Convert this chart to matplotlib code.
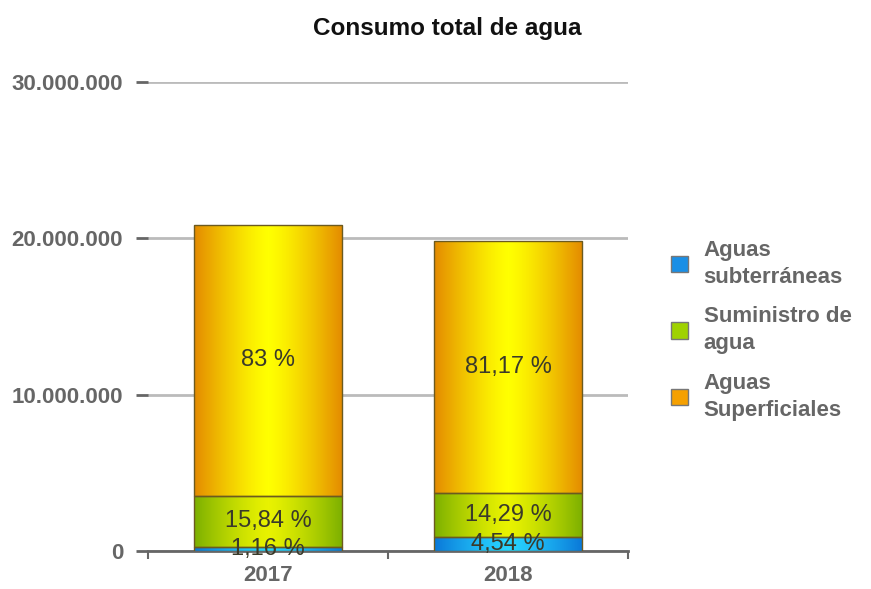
import numpy as np
import matplotlib.pyplot as plt
from matplotlib.colors import LinearSegmentedColormap

years = ['2017', '2018']
series_names = ['Aguas\nsubterráneas', 'Suministro de\nagua', 'Aguas\nSuperficiales']
subterraneas = [242000, 900000]
suministro = [3304000, 2834000]
superficiales = [17314000, 16096000]
pct_labels = [['1,16 %', '4,54 %'], ['15,84 %', '14,29 %'], ['83 %', '81,17 %']]
y_ticks = [0, 10000000, 20000000, 30000000]
y_tick_labels = ['0', '10.000.000', '20.000.000', '30.000.000']

# (edge colour, centre colour, legend colour)
colours = [('#0a78d8', '#27d3ff', '#1a8fe6'),
           ('#7cb000', '#e8f200', '#9fd200'),
           ('#e48a00', '#ffff00', '#f5a000')]

plt.rcParams['font.family'] = ['Liberation Sans', 'DejaVu Sans']

fig = plt.figure(figsize=(8.71, 5.89), dpi=100)
ax = fig.add_axes([148 / 871, 1 - 551 / 589, 480 / 871, 469 / 589])

x = np.arange(len(years))
width = 0.62
bottoms = np.zeros(len(years))
grad = np.abs(np.linspace(-1, 1, 200)) ** 1.3
grad = np.vstack([grad, grad])

handles = []
for i, vals in enumerate([subterraneas, suministro, superficiales]):
    edge, centre, leg = colours[i]
    cmap = LinearSegmentedColormap.from_list('c%d' % i, [centre, edge])
    bars = ax.bar(x, vals, width, bottom=bottoms, color=leg,
                  edgecolor='#6b5a20', linewidth=1.0, zorder=3)
    for b in bars:
        im = ax.imshow(grad, cmap=cmap, aspect='auto', zorder=3.5,
                       extent=[b.get_x(), b.get_x() + b.get_width(),
                               b.get_y(), b.get_y() + b.get_height()])
        im.set_clip_path(b)
        b.set_facecolor('none')
        b.set_zorder(4)
    for j, b in enumerate(bars):
        ax.text(b.get_x() + b.get_width() / 2, b.get_y() + b.get_height() / 2,
                pct_labels[i][j], ha='center', va='center', fontsize=17,
                color='#3a3a2a', zorder=5)
    handles.append(plt.Rectangle((0, 0), 1, 1, facecolor=leg, edgecolor='#777777'))
    bottoms += np.array(vals)

ax.set_xlim(-0.5, 1.5)
ax.set_ylim(0, 30000000)
ax.set_yticks(y_ticks)
ax.set_yticklabels(y_tick_labels, fontsize=16, fontweight='bold', color='#666666')
ax.set_xticks(x)
ax.set_xticklabels(years, fontsize=16, fontweight='bold', color='#666666')
ax.set_xticks([-0.5, 0.5, 1.5], minor=True)
ax.tick_params(axis='x', which='major', length=0, pad=10)
ax.tick_params(axis='x', which='minor', length=6, width=1.5, color='#666666')
ax.tick_params(axis='y', length=9, width=2, color='#666666', pad=9)

for s in ['top', 'right', 'left']:
    ax.spines[s].set_visible(False)
ax.spines['bottom'].set_color('#666666')
ax.spines['bottom'].set_linewidth(2)
ax.yaxis.grid(True, color='#bbbbbb', linewidth=2, zorder=0)
ax.set_axisbelow(True)

fig.text(447 / 871, 1 - 28 / 589, 'Consumo total de agua', ha='center',
         va='center', fontsize=17.5, fontweight='bold', color='#111111')

leg = fig.legend(handles, series_names, loc='upper left',
                 bbox_to_anchor=(651 / 871, 1 - 220 / 589), frameon=False,
                 prop={'size': 16, 'weight': 'bold'}, labelcolor='#666666',
                 handlelength=0.75, handleheight=0.75, handletextpad=0.72,
                 labelspacing=0.85)
for t in leg.get_texts():
    t.set_linespacing(1.35)

fig.savefig('out.png', dpi=100)
